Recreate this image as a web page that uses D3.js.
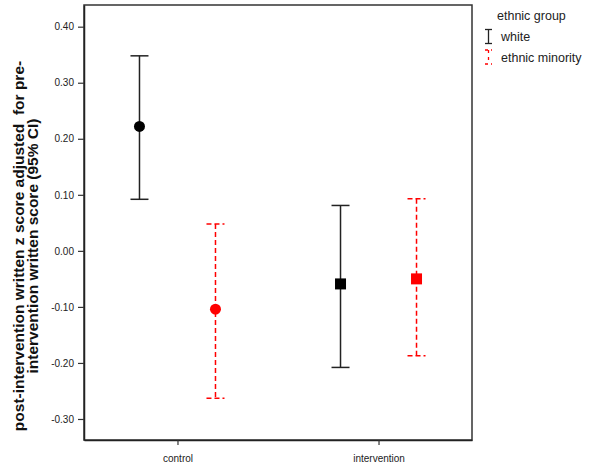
<!DOCTYPE html>
<html><head><meta charset="utf-8">
<script src="https://cdn.jsdelivr.net/npm/d3@7"></script>
<style>body{margin:0;background:#fff}svg{display:block;font-family:"Liberation Sans",Arial,sans-serif}</style>
</head><body><svg id="c" width="600" height="476"></svg>
<script>
const categories = ["control", "intervention"];
const groups = ["white", "ethnic minority"];
const means = { "white": [0.222, -0.059], "ethnic minority": [-0.104, -0.050] };
const lower = { "white": [0.092, -0.208], "ethnic minority": [-0.263, -0.187] };
const upper = { "white": [0.348, 0.081], "ethnic minority": [0.048, 0.093] };
const yTicks = [0.40, 0.30, 0.20, 0.10, 0.00, -0.10, -0.20, -0.30];

const svg = d3.select("#c");
const L = 84, R = 472, T = 5, B = 440;
const x = d3.scalePoint().domain(categories).range([L, R]).padding(0.465);
const off = d3.scalePoint().domain(groups).range([-38, 38]);
const y = d3.scaleLinear().domain([-0.3375, 0.4387]).range([B, T]);
const fmt = v => (v < 0 ? "-" : "") + Math.abs(v).toFixed(2);

// frame
svg.append("rect").attr("x", L).attr("y", T).attr("width", R - L).attr("height", B - T)
  .attr("fill", "none").attr("stroke", "#333").attr("stroke-width", 1.5);

// y axis
const ya = svg.append("g").attr("transform", `translate(${L},0)`)
  .call(d3.axisLeft(y).tickValues(yTicks).tickSize(6).tickSizeOuter(0).tickPadding(4).tickFormat(fmt));
ya.select(".domain").attr("stroke", "#222").attr("stroke-width", 1.5);
ya.selectAll(".tick line").attr("stroke", "#333").attr("stroke-width", 1.2);
ya.selectAll(".tick text").attr("font-size", 10).attr("fill", "#222").attr("font-family", "Liberation Sans, Arial, sans-serif");

// x axis
const xa = svg.append("g").attr("transform", `translate(0,${B})`)
  .call(d3.axisBottom(x).tickSize(5).tickSizeOuter(0).tickPadding(10));
xa.select(".domain").attr("stroke", "#222").attr("stroke-width", 1.5);
xa.selectAll(".tick line").attr("stroke", "#333").attr("stroke-width", 1.2);
xa.selectAll(".tick text").attr("font-size", 10).attr("fill", "#222").attr("font-family", "Liberation Sans, Arial, sans-serif");

// y title
const yt = svg.append("text").attr("transform", "translate(24,246) rotate(-90)")
  .attr("text-anchor", "middle").attr("font-size", 15.5).attr("font-weight", "bold").attr("fill", "#111")
  .style("white-space", "pre");
yt.append("tspan").attr("x", 0).attr("dy", 0).text("post-intervention written z score adjusted  for pre-");
yt.append("tspan").attr("x", 0).attr("dy", 14).text("intervention written score (95% CI)");

const style = {
  "white": { color: "#222", dash: null, fill: "#000" },
  "ethnic minority": { color: "#ff0000", dash: "5,3", fill: "#ff0000" }
};
const cap = 9;

groups.forEach(g => {
  const st = style[g];
  const gg = svg.append("g");
  categories.forEach((c, i) => {
    const cx = x(c) + off(g);
    gg.append("line").attr("x1", cx).attr("x2", cx).attr("y1", y(upper[g][i])).attr("y2", y(lower[g][i]))
      .attr("stroke", st.color).attr("stroke-width", 1.5).attr("stroke-dasharray", st.dash);
    [upper[g][i], lower[g][i]].forEach(v => {
      gg.append("line").attr("x1", cx - cap).attr("x2", cx + cap).attr("y1", y(v)).attr("y2", y(v))
        .attr("stroke", st.color).attr("stroke-width", 1.5).attr("stroke-dasharray", st.dash);
    });
    if (c === "control") {
      gg.append("circle").attr("cx", cx).attr("cy", y(means[g][i])).attr("r", 5.5).attr("fill", st.fill);
    } else {
      gg.append("rect").attr("x", cx - 5.5).attr("y", y(means[g][i]) - 5.5).attr("width", 11).attr("height", 11).attr("fill", st.fill);
    }
  });
});

// legend
const lg = svg.append("g").attr("font-size", 12.5).attr("fill", "#222");
lg.append("text").attr("x", 497).attr("y", 20).text("ethnic group");
groups.forEach((g, i) => {
  const st = style[g];
  const cy = 36.5 + i * 20.5;
  const sx = 488.5;
  lg.append("text").attr("x", 501).attr("y", cy + 4.5).text(g);
  lg.append("line").attr("x1", sx).attr("x2", sx).attr("y1", cy - 7).attr("y2", cy + 7)
    .attr("stroke", st.color).attr("stroke-width", 1.3).attr("stroke-dasharray", st.dash ? "3,4" : null);
  [cy - 7, cy + 7].forEach(v => {
    lg.append("line").attr("x1", sx - 3.5).attr("x2", sx + 3.5).attr("y1", v).attr("y2", v)
      .attr("stroke", st.color).attr("stroke-width", 1.3).attr("stroke-dasharray", st.dash ? "3,3" : null);
  });
});
</script></body></html>
